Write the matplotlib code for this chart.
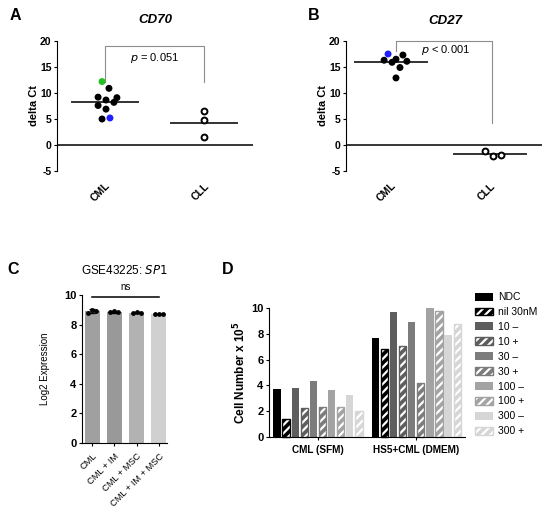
import matplotlib
matplotlib.use('Agg')
from matplotlib import pyplot
from matplotlib.patches import Patch
import numpy

pyplot.rcParams['font.family'] = ['Liberation Sans', 'DejaVu Sans']
pyplot.rcParams['hatch.linewidth'] = 1.6
pyplot.rcParams['axes.unicode_minus'] = False

# --- data ---
groups_ab = ['CML', 'CLL']

cd70_cml = [12.2, 10.9, 9.2, 8.65, 9.1, 7.6, 8.2, 6.9, 5.0, 5.2]
cd70_cml_dx = [-0.03, 0.04, -0.07, 0.01, 0.12, -0.07, 0.09, 0.01, -0.03, 0.05]
cd70_cml_col = ['#22c022', 'k', 'k', 'k', 'k', 'k', 'k', 'k', 'k', '#2020ff']
cd70_cll = [6.6, 4.8, 1.5]
cd70_cll_dx = [0.0, 0.0, 0.0]
cd70_means = [8.3, 4.3]

cd27_cml = [17.5, 16.3, 17.3, 16.5, 15.9, 16.1, 14.9, 12.9]
cd27_cml_dx = [-0.03, -0.07, 0.12, 0.05, 0.01, 0.16, 0.09, 0.05]
cd27_cml_col = ['#2020ff', 'k', 'k', 'k', 'k', 'k', 'k', 'k']
cd27_cll = [-1.15, -2.1, -1.9]
cd27_cll_dx = [-0.05, 0.03, 0.11]
cd27_means = [16.0, -1.7]

sp1_labels = ['CML', 'CML + IM', 'CML + MSC', 'CML + IM + MSC']
sp1_points = [[8.78, 9.0, 8.95], [8.82, 8.95, 8.85], [8.8, 8.85, 8.8], [8.7, 8.75, 8.72]]
sp1_dx = [-0.18, 0.0, 0.18]
sp1_colors = ['#a0a0a0', '#999999', '#b2b2b2', '#d0d0d0']

d_groups = ['CML (SFM)', 'HS5+CML (DMEM)']
d_labels = ['NDC', 'nil 30nM', '10 \u2013', '10 +', '30 \u2013', '30 +',
            '100 \u2013', '100 +', '300 \u2013', '300 +']
d_colors = ['#000000', '#000000', '#5e5e5e', '#5e5e5e', '#7c7c7c', '#7c7c7c',
            '#a3a3a3', '#a3a3a3', '#d6d6d6', '#d6d6d6']
d_hatched = [False, True] * 5
d_sfm = [3.73, 1.39, 3.78, 2.24, 4.34, 2.29, 3.62, 2.34, 3.29, 2.03]
d_dmem = [7.69, 6.84, 9.69, 7.07, 8.89, 4.22, 9.97, 9.77, 7.94, 8.79]

W, H = 550, 518
fig = pyplot.figure(figsize=(W / 100, H / 100), dpi=100)


def px_axes(l, t, r, b):
    return fig.add_axes([l / W, 1 - b / H, (r - l) / W, (b - t) / H])


def bold_ticks(ax):
    for t in ax.get_yticklabels():
        t.set_fontweight('bold')


def style_dot_axes(ax):
    for s in ['top', 'right', 'bottom']:
        ax.spines[s].set_visible(False)
    ax.set_ylim(-5, 20)
    ax.set_yticks([-5, 0, 5, 10, 15, 20])
    ax.axhline(0, color='k', lw=1.1)
    ax.set_xticks([0, 1])
    ax.set_xticklabels(groups_ab, rotation=45, ha='right', rotation_mode='anchor',
                       fontweight='bold', fontsize=7.5)
    ax.tick_params(axis='x', length=0, pad=7)
    ax.tick_params(axis='y', length=2.5, labelsize=7.5, pad=1.5)
    bold_ticks(ax)
    ax.set_ylabel('delta Ct', fontweight='bold', fontsize=8)
    ax.yaxis.set_label_coords(-0.092, 0.5)


# ---------- A ----------
axA = px_axes(57, 41, 253, 171)
axA.set_xlim(-0.485, 1.495)
style_dot_axes(axA)
axA.scatter(numpy.array(cd70_cml_dx), cd70_cml, s=16, c=cd70_cml_col, zorder=3)
axA.scatter(1 + numpy.array(cd70_cll_dx), cd70_cll, s=18, facecolors='white',
            edgecolors='k', linewidths=1.4, zorder=3)
for i, m in enumerate(cd70_means):
    axA.plot([i - 0.33, i + 0.33], [m, m], color='#333333', lw=1.4)
axA.plot([0, 0, 1, 1], [12.2, 19, 19, 12.2], color='#8c8c8c', lw=0.8)
axA.text(0.5, 16.7, '$p$ = 0.051', ha='center', va='center', fontsize=8)
fig.text(155 / W, 1 - 20 / H, 'CD70', ha='center', va='center',
         fontweight='bold', fontstyle='italic', fontsize=9.5)
fig.text(15 / W, 1 - 15 / H, 'A', ha='center', va='center', fontweight='bold', fontsize=11.5)

# ---------- B ----------
axB = px_axes(346, 41, 542, 171)
axB.set_xlim(-0.455, 1.525)
style_dot_axes(axB)
axB.scatter(numpy.array(cd27_cml_dx), cd27_cml, s=16, c=cd27_cml_col, zorder=3)
axB.scatter(1 + numpy.array(cd27_cll_dx), cd27_cll, s=18, facecolors='white',
            edgecolors='k', linewidths=1.4, zorder=3)
for i, m in enumerate(cd27_means):
    axB.plot([i - 0.36, i + 0.36], [m, m], color='#333333', lw=1.4)
axB.plot([0.05, 0.05, 1.02, 1.02], [18, 20, 20, 4.2], color='#8c8c8c', lw=0.8, clip_on=False)
axB.text(0.55, 18.3, '$p$ < 0.001', ha='center', va='center', fontsize=8)
fig.text(445 / W, 1 - 21 / H, 'CD27', ha='center', va='center',
         fontweight='bold', fontstyle='italic', fontsize=9.5)
fig.text(314 / W, 1 - 15 / H, 'B', ha='center', va='center', fontweight='bold', fontsize=11.5)

# ---------- C ----------
axC = px_axes(82, 295, 167, 443)
x_c = numpy.arange(len(sp1_labels))
means_c = [numpy.mean(p) for p in sp1_points]
sd_c = [numpy.std(p, ddof=1) for p in sp1_points]
axC.bar(x_c, means_c, width=0.67, color=sp1_colors)
axC.errorbar(x_c, means_c, yerr=sd_c, fmt='none', ecolor='k', elinewidth=0.8, capsize=2)
for i, pts in enumerate(sp1_points):
    axC.scatter(i + numpy.array(sp1_dx), pts, s=6, c='k', zorder=3)
axC.set_xlim(-0.45, 3.36)
axC.set_ylim(0, 10)
axC.set_yticks([0, 2, 4, 6, 8, 10])
axC.set_xticks(x_c)
axC.set_xticklabels(sp1_labels, rotation=45, ha='right', rotation_mode='anchor', fontsize=6.7)
axC.tick_params(axis='y', length=2.5, labelsize=8, pad=1.5)
axC.tick_params(axis='x', length=2.5)
bold_ticks(axC)
for s in ['top', 'right']:
    axC.spines[s].set_visible(False)
axC.set_ylabel('Log2 Expression', fontsize=7)
axC.yaxis.set_label_coords(-0.376, 0.5)
axC.plot([0, 3], [9.85, 9.85], color='k', lw=1.1, clip_on=False)
axC.text(1.5, 10.55, 'ns', ha='center', va='center', fontsize=7)
fig.text(124 / W, 1 - 271 / H, 'GSE43225: $\\it{SP1}$', ha='center', va='center', fontsize=8.5)
fig.text(13 / W, 1 - 270 / H, 'C', ha='center', va='center', fontweight='bold', fontsize=11.5)

# ---------- D ----------
axD = px_axes(269, 308, 465, 437)
offsets = [0.0, 10.8]
for gi, vals in enumerate([d_sfm, d_dmem]):
    for i, v in enumerate(vals):
        x = offsets[gi] + i
        c = d_colors[i]
        if d_hatched[i]:
            axD.bar(x, v, width=0.8, color=c, edgecolor='white', hatch='////',
                    lw=0, clip_on=False)
            axD.bar(x, v, width=0.8, fill=False, edgecolor=c, lw=1, clip_on=False)
        else:
            axD.bar(x, v, width=0.8, color=c, lw=0, clip_on=False)
handles = []
for i, lab in enumerate(d_labels):
    c = d_colors[i]
    if d_hatched[i]:
        h = (Patch(facecolor=c, edgecolor='white', hatch='////', lw=0),
             Patch(fill=False, edgecolor=c, lw=1))
    else:
        h = Patch(facecolor=c, lw=0)
    handles.append(h)
axD.set_xlim(-0.88, 20.66)
axD.set_ylim(0, 10)
axD.set_yticks([0, 2, 4, 6, 8, 10])
axD.set_xticks([4.5, 15.3])
axD.set_xticklabels(d_groups, fontweight='bold', fontsize=7.2)
axD.tick_params(axis='y', length=2.5, labelsize=8, pad=1.5)
axD.tick_params(axis='x', length=2.5)
bold_ticks(axD)
for s in ['top', 'right']:
    axD.spines[s].set_visible(False)
axD.set_ylabel('Cell Number x 10$^\\mathbf{5}$', fontweight='bold', fontsize=8.5)
axD.yaxis.set_label_coords(-0.107, 0.5)
fig.legend(handles, d_labels, loc='upper left', bbox_to_anchor=(470 / W, 1 - 287 / H),
           frameon=False, fontsize=7.5, handlelength=1.7, handleheight=0.8,
           labelspacing=0.47, handletextpad=0.5, borderpad=0)
fig.text(228 / W, 1 - 270 / H, 'D', ha='center', va='center', fontweight='bold', fontsize=11.5)

fig.savefig('out.png', dpi=100)
